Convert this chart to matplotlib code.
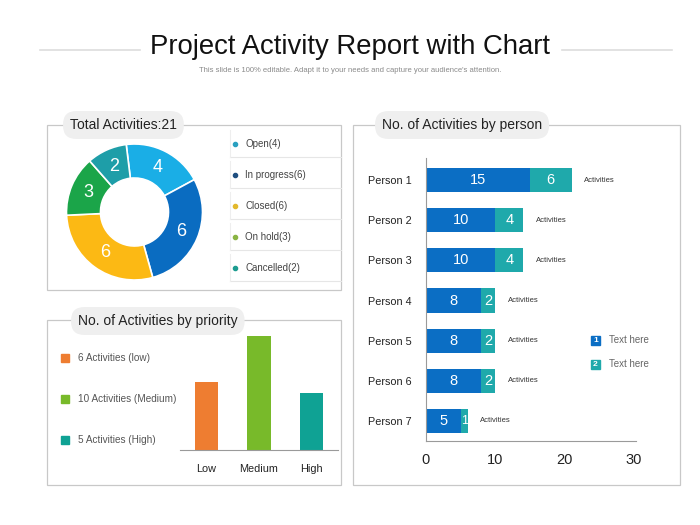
import numpy as np
import matplotlib
matplotlib.use("Agg")
import matplotlib.pyplot as plt
from matplotlib.patches import Rectangle

plt.rcParams["font.family"] = ["Liberation Sans", "DejaVu Sans"]

# Data
status_names = ["Open", "In progress", "Closed", "On hold", "Cancelled"]
status_counts = [4, 6, 6, 3, 2]
status_colors = ["#1AAEE6", "#0A6CC1", "#FCB914", "#1BA549", "#1E9EA8"]
status_dot_colors = ["#2AA0C0", "#1F4F80", "#E3B92C", "#8AB443", "#1C9C90"]

priority_names = ["Low", "Medium", "High"]
priority_counts = [6, 10, 5]
priority_legend = ["6 Activities (low)", "10 Activities (Medium)", "5 Activities (High)"]
priority_colors = ["#EE7D31", "#78BA2A", "#0FA294"]

persons = ["Person 1", "Person 2", "Person 3", "Person 4", "Person 5", "Person 6", "Person 7"]
series1 = [15, 10, 10, 8, 8, 8, 5]
series2 = [6, 4, 4, 2, 2, 2, 1]
series_names = ["Text here", "Text here"]
series_colors = ["#0B6EC4", "#1FA9AB"]

W, H = 700, 525
fig = plt.figure(figsize=(7, 5.25), dpi=100)


def axes_px(x0, y0, x1, y1, **kw):
    return fig.add_axes([x0 / W, 1 - y1 / H, (x1 - x0) / W, (y1 - y0) / H], **kw)


# background layer in pixel coordinates
bg = axes_px(0, 0, W, H)
bg.set_xlim(0, W)
bg.set_ylim(H, 0)
bg.axis("off")

# header
bg.text(350, 47, "Project Activity Report with Chart", ha="center", va="center",
        fontsize=19.8, color="#111111")
bg.text(350, 71, "This slide is 100% editable. Adapt it to your needs and capture your audience's attention.",
        ha="center", va="center", fontsize=5.5, color="#8a8a8a")
bg.plot([40, 140], [50, 50], color="#dddddd", lw=1.2)
bg.plot([562, 672], [50, 50], color="#dddddd", lw=1.2)

# panel boxes
for x0, y0, x1, y1 in [(47, 125, 341, 290), (47, 320, 341, 485), (353, 125, 680, 485)]:
    bg.add_patch(Rectangle((x0, y0), x1 - x0, y1 - y0, fill=False, ec="#c8c8c8", lw=0.9))


def pill(x, y, text):
    bg.text(x, y, text, ha="left", va="center", fontsize=10, color="#222222",
            bbox=dict(boxstyle="round,pad=0.5,rounding_size=0.95", fc="#efefef", ec="none"))


pill(70, 125, "Total Activities:21")
pill(78, 321, "No. of Activities by priority")
pill(382, 125, "No. of Activities by person")

# status legend
for i, (name, n, c) in enumerate(zip(status_names, status_counts, status_dot_colors)):
    y = 144 + 31 * i
    bg.scatter([235], [y], s=9, color=c, zorder=3)
    bg.text(245, y, f"{name}({n})", ha="left", va="center", fontsize=7, color="#444444")
    bg.plot([230, 341], [y + 13, y + 13], color="#e6e6e6", lw=0.8)
    bg.plot([230, 230], [y - 14, y + 13], color="#eeeeee", lw=0.8)

# priority legend
for i, (lab, c) in enumerate(zip(priority_legend, priority_colors)):
    y = 358 + 41 * i
    bg.add_patch(Rectangle((60.5, y - 4), 8, 8, color=c))
    bg.text(78, y, lab, ha="left", va="center", fontsize=7.2, color="#555555")

# person legend
for i, (lab, c) in enumerate(zip(series_names, series_colors)):
    y = 340 + 24 * i
    bg.add_patch(Rectangle((591, y - 4.5), 9, 9, color=c))
    bg.text(595.5, y, str(i + 1), ha="center", va="center", fontsize=6, color="white",
            fontweight="bold")
    bg.text(609, y, lab, ha="left", va="center", fontsize=7, color="#666666")

# donut
ax1 = axes_px(134.5 - 68, 212 - 68, 134.5 + 68, 212 + 68)
wedges, _ = ax1.pie(status_counts, colors=status_colors, startangle=97, counterclock=False,
                    radius=1, wedgeprops=dict(width=0.5, edgecolor="white", linewidth=1.2))
for w, v in zip(wedges, status_counts):
    ang = np.deg2rad((w.theta1 + w.theta2) / 2)
    ax1.text(0.74 * np.cos(ang), 0.74 * np.sin(ang), str(v), ha="center", va="center",
             fontsize=13, color="white")
ax1.set_xlim(-1, 1)
ax1.set_ylim(-1, 1)
ax1.set_aspect("equal")

# priority bars
ax2 = axes_px(180, 336, 338, 450)
ax2.patch.set_alpha(0)
ax2.bar(range(len(priority_counts)), priority_counts, width=0.44, color=priority_colors)
ax2.set_xlim(-0.5, 2.5)
ax2.set_ylim(0, 10)
ax2.set_xticks(range(len(priority_names)))
ax2.set_xticklabels(priority_names, fontsize=7.8, color="#222222")
ax2.tick_params(length=0, pad=10)
ax2.set_yticks([])
for s in ["top", "right", "left"]:
    ax2.spines[s].set_visible(False)
ax2.spines["bottom"].set_color("#9a9a9a")

# person bars
ax3 = axes_px(426, 158, 634, 441)
ax3.patch.set_alpha(0)
ypos = np.arange(len(persons))
ax3.barh(ypos, series1, height=0.6, color=series_colors[0])
ax3.barh(ypos, series2, left=series1, height=0.6, color=series_colors[1])
for y, a, b in zip(ypos, series1, series2):
    ax3.text(a / 2, y, str(a), ha="center", va="center", fontsize=10.5, color="white")
    ax3.text(a + b / 2, y, str(b), ha="center", va="center",
             fontsize=10.5 if b > 1 else 9, color="white")
    ax3.text(a + b + 1.8, y, "Activities", ha="left", va="center", fontsize=5.5, color="#333333")
ax3.set_xlim(0, 30)
ax3.set_ylim(6.5, -0.55)
ax3.set_xticks([0, 10, 20, 30])
ax3.tick_params(axis="x", labelsize=10.5, colors="#222222", length=0, pad=9)
ax3.set_yticks(ypos)
ax3.set_yticklabels(persons, fontsize=7.8, color="#222222")
ax3.tick_params(axis="y", length=0, pad=10)
for s in ["top", "right"]:
    ax3.spines[s].set_visible(False)
ax3.spines["left"].set_color("#9a9a9a")
ax3.spines["bottom"].set_color("#9a9a9a")
ax3.spines["bottom"].set_bounds(0, 30.3)

fig.savefig("out.png", dpi=100)
